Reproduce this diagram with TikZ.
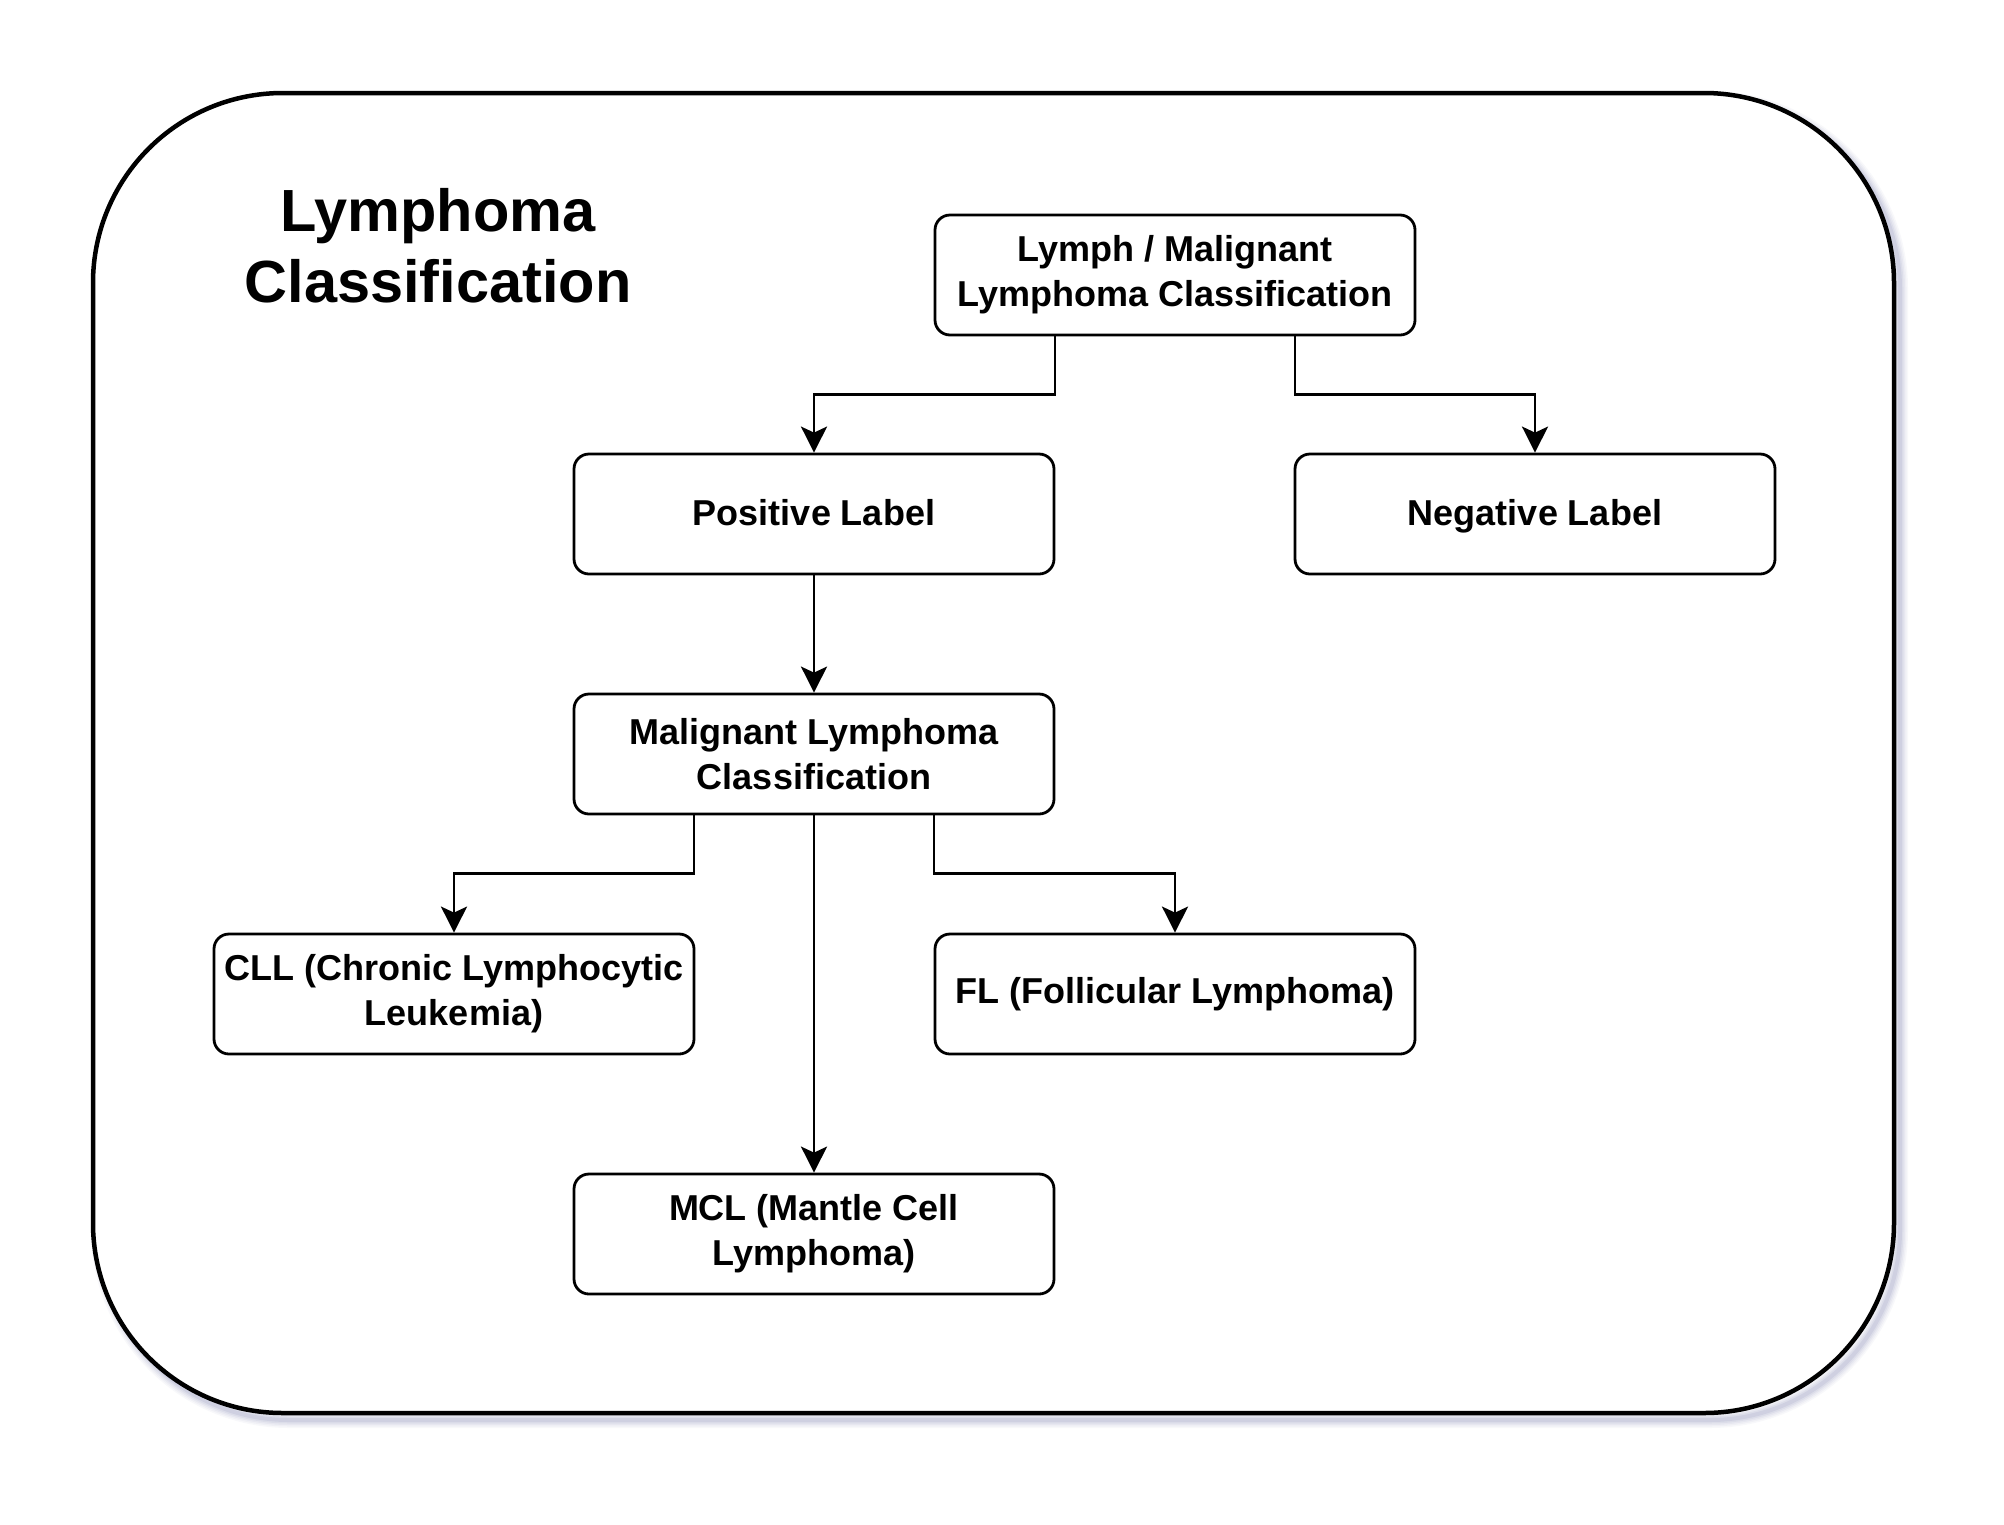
\documentclass[tikz,border=0pt]{standalone}
\usepackage{fontspec}
\setmainfont{Liberation Sans}
\usetikzlibrary{arrows.meta,calc}
\begin{document}
\begin{tikzpicture}[x=1pt,y=-1pt,
  box/.style={draw=black, line width=2.8pt, rounded corners=15pt, fill=white,
    minimum width=480pt, minimum height=120pt, align=center, inner sep=0pt,
    font=\fontsize{36}{45}\selectfont\bfseries},
  oneline/.style={text height=26pt, text depth=8pt},
  onelinelow/.style={text height=29pt, text depth=6pt},
  arr/.style={line width=2.8pt, -{Stealth[length=26pt,width=26pt,inset=6pt]}},
  titletext/.style={align=center, inner sep=0pt, font=\fontsize{59.5}{71}\selectfont\bfseries}
]
\useasboundingbox (0,0) rectangle (2004,1524);
% shadow of outer frame
\foreach \w/\o in {16/0.05,13/0.06,10/0.07,7/0.09,4/0.12}{
  \draw[line width=\w pt, draw={rgb,255:red,110;green,115;blue,165}, opacity=\o, rounded corners=190pt]
    (99,99) rectangle (1900,1420);
}
\draw[line width=4.5pt, fill=white, rounded corners=190pt] (93,93) rectangle (1894,1413);

\node[titletext] (title) at (438,246) {Lymphoma\\Classification};

\node[box] (top) at (1175,275) {Lymph / Malignant\\Lymphoma Classification};
\node[box, onelinelow] (pos) at (814,514) {Positive Label};
\node[box, onelinelow] (neg) at (1535,514) {Negative Label};
\node[box] (mal) at (814,754) {Malignant Lymphoma\\Classification};
\node[box] (cll) at (454,994) {CLL (Chronic Lymphocytic\\Leukemia)};
\node[box, oneline] (fl) at (1175,994) {FL (Follicular Lymphoma)};
\node[box] (mcl) at (814,1234) {MCL (Mantle Cell\\Lymphoma)};

\draw[arr] ([xshift=-120pt]top.south) -- ++(0,58) -| (pos.north);
\draw[arr] ([xshift=120pt]top.south) -- ++(0,58) -| (neg.north);
\draw[arr] (pos.south) -- (mal.north);
\draw[arr] ([xshift=-120pt]mal.south) -- ++(0,58) -| (cll.north);
\draw[arr] ([xshift=120pt]mal.south) -- ++(0,58) -| (fl.north);
\draw[arr] (mal.south) -- (mcl.north);
\end{tikzpicture}
\end{document}
